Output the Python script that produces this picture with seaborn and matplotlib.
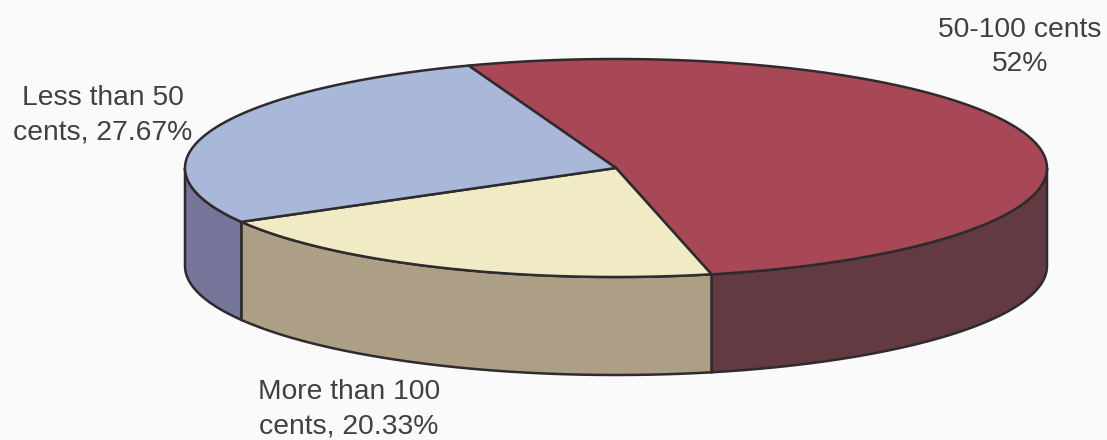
import numpy as np
import matplotlib
matplotlib.use("Agg")
import matplotlib.pyplot as plt
import seaborn as sns

labels = ["50-100 cents", "More than 100 cents", "Less than 50 cents"]
values = [52.0, 20.33, 27.67]
top_colors = ["#a84755", "#f0ebc5", "#a9b8d8"]
side_colors = ["#643a42", "#ad9f85", "#76759a"]
edge = "#2e2a2e"

sns.set_theme(style="white")
plt.rcParams["font.family"] = ["Liberation Sans", "DejaVu Sans"]

W, H = 1107, 440
cx, cy, rx, ry, depth = 616, 168, 431, 109, 98
start = 110

fig = plt.figure(figsize=(W / 100, H / 100), dpi=100, facecolor="#fafafb")
ax = fig.add_axes([0, 0, 1, 1])

def to_x(c):
    return cx + rx * c

def to_y(s):
    return cy - ry * s

a = start
bounds = []
for v in values:
    b = a - v * 3.6
    bounds.append((a, b))
    a = b

# side walls (only the front half, sin < 0)
for (a0, a1), col in zip(bounds, side_colors):
    lo, hi = max(a1, -180), min(a0, 0)
    if lo >= hi:
        continue
    t = np.radians(np.linspace(lo, hi, 200))
    x = to_x(np.cos(t))
    y = to_y(np.sin(t))
    ax.fill(np.r_[x, x[::-1]], np.r_[y, y[::-1] + depth], facecolor=col,
            edgecolor=edge, linewidth=1.8, zorder=1)

# top faces
for (a0, a1), col in zip(bounds, top_colors):
    t = np.radians(np.linspace(a0, a1, 300))
    x = np.r_[cx, to_x(np.cos(t))]
    y = np.r_[cy, to_y(np.sin(t))]
    ax.fill(x, y, facecolor=col, edgecolor=edge, linewidth=1.8, zorder=2)

ax.set_xlim(0, W)
ax.set_ylim(H, 0)
ax.axis("off")

fs = 20.3
tc = "#404044"
ax.text(1020, 47, "50-100 cents\n52%", ha="center", va="center", fontsize=fs, color=tc, linespacing=1.43)
ax.text(103, 115, "Less than 50\ncents, 27.67%", ha="center", va="center", fontsize=fs, color=tc, linespacing=1.43)
ax.text(349, 409, "More than 100\ncents, 20.33%", ha="center", va="center", fontsize=fs, color=tc, linespacing=1.43)

fig.savefig("out.png", dpi=100, facecolor=fig.get_facecolor())
